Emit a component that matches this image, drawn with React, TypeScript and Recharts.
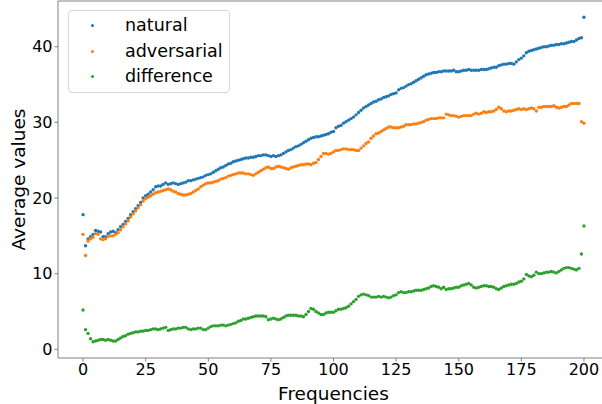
import React from 'react';
import { ScatterChart, Scatter, XAxis, YAxis, Legend, ReferenceLine } from 'recharts';

const natural = [
  17.8, 13.7, 14.6, 14.9, 15.2, 15.7, 15.6, 15.5, 14.9, 14.9,
  15.3, 15.5, 15.6, 15.4, 15.8, 16.2, 16.5, 16.9, 17.3, 17.8,
  18.2, 18.6, 19.0, 19.4, 20.0, 20.3, 20.5, 20.8, 21.1, 21.5,
  21.6, 21.6, 21.8, 22.0, 21.8, 21.9, 22.0, 21.9, 21.8, 21.9,
  22.0, 22.1, 22.3, 22.3, 22.4, 22.5, 22.6, 22.7, 22.8, 23.0,
  23.1, 23.2, 23.4, 23.6, 23.8, 24.0, 24.1, 24.3, 24.5, 24.6,
  24.8, 24.9, 25.0, 25.1, 25.2, 25.3, 25.3, 25.4, 25.4, 25.5,
  25.6, 25.6, 25.7, 25.7, 25.6, 25.5, 25.6, 25.5, 25.6, 25.7,
  25.9, 26.1, 26.3, 26.4, 26.6, 26.8, 26.9, 27.1, 27.3, 27.5,
  27.7, 27.9, 28.0, 28.1, 28.1, 28.2, 28.3, 28.4, 28.5, 28.7,
  28.8, 29.3, 29.5, 29.6, 29.9, 30.1, 30.3, 30.5, 30.7, 31.0,
  31.3, 31.6, 31.9, 32.1, 32.3, 32.5, 32.7, 32.8, 33.0, 33.1,
  33.3, 33.4, 33.5, 33.7, 33.8, 33.9, 34.3, 34.5, 34.6, 34.8,
  35.0, 35.1, 35.3, 35.5, 35.7, 35.9, 36.1, 36.3, 36.4, 36.5,
  36.6, 36.6, 36.7, 36.7, 36.8, 36.8, 36.8, 36.8, 36.9, 36.7,
  36.7, 36.8, 36.9, 36.9, 37.0, 36.9, 36.9, 36.9, 36.9, 37.0,
  37.0, 37.0, 37.1, 37.2, 37.3, 37.3, 37.5, 37.6, 37.7, 37.7,
  37.8, 37.8, 37.7, 38.0, 38.3, 38.5, 38.8, 39.2, 39.4, 39.5,
  39.6, 39.7, 39.8, 39.9, 40.0, 40.0, 40.1, 40.2, 40.2, 40.3,
  40.3, 40.4, 40.4, 40.5, 40.6, 40.7, 40.7, 40.9, 41.1, 41.2,
  43.9,
];

const adversarial = [
  15.2, 12.4, 14.3, 14.6, 14.8, 15.3, 15.2, 14.6, 14.5, 14.6,
  14.9, 15.0, 15.0, 15.2, 15.4, 15.8, 16.2, 16.6, 17.0, 17.5,
  17.9, 18.3, 18.7, 19.1, 19.6, 19.9, 20.1, 20.3, 20.5, 20.7,
  20.8, 20.9, 21.0, 21.1, 21.2, 21.1, 20.9, 20.8, 20.6, 20.5,
  20.4, 20.4, 20.5, 20.6, 20.8, 21.0, 21.2, 21.5, 21.7, 21.9,
  22.0, 22.0, 22.1, 22.2, 22.3, 22.5, 22.6, 22.7, 22.9, 23.0,
  23.1, 23.2, 23.3, 23.3, 23.3, 23.2, 23.2, 23.1, 23.0, 23.2,
  23.4, 23.6, 23.8, 24.0, 24.1, 23.9, 23.9, 24.1, 24.2, 24.1,
  24.0, 23.9, 23.8, 24.0, 24.1, 24.2, 24.3, 24.4, 24.4, 24.5,
  24.5, 24.4, 24.6, 24.7, 25.1, 25.5, 25.9, 25.9, 25.8, 25.9,
  26.1, 26.3, 26.3, 26.4, 26.5, 26.5, 26.4, 26.4, 26.4, 26.3,
  26.3, 26.6, 26.9, 27.2, 27.4, 27.9, 28.2, 28.5, 28.6, 28.8,
  29.0, 29.2, 29.4, 29.4, 29.3, 29.3, 29.3, 29.4, 29.5, 29.7,
  29.7, 29.7, 29.8, 29.8, 29.9, 30.0, 30.1, 30.3, 30.4, 30.5,
  30.5, 30.5, 30.6, 30.6, 30.6, 31.1, 31.0, 30.9, 30.9, 30.8,
  30.7, 30.8, 30.9, 30.9, 30.9, 30.9, 31.1, 31.2, 31.1, 31.2,
  31.4, 31.3, 31.4, 31.4, 31.5, 31.7, 32.0, 31.8, 31.5, 31.4,
  31.5, 31.5, 31.6, 31.7, 31.8, 31.7, 31.8, 31.7, 31.8, 31.9,
  31.8, 31.5, 32.0, 32.0, 32.1, 32.1, 32.1, 32.1, 32.2, 32.0,
  31.9, 32.0, 32.1, 32.1, 32.3, 32.5, 32.5, 32.5, 32.5, 30.1,
  29.9,
];

const difference = [
  5.2, 2.6, 2.1, 1.4, 1.0, 1.1, 1.2, 1.3, 1.3, 1.2,
  1.3, 1.2, 1.1, 1.1, 1.3, 1.5, 1.7, 1.8, 2.0, 2.1,
  2.2, 2.3, 2.3, 2.4, 2.4, 2.5, 2.5, 2.6, 2.7, 2.7,
  2.6, 2.7, 2.8, 2.9, 2.5, 2.6, 2.7, 2.7, 2.8, 2.8,
  2.9, 2.9, 2.7, 2.6, 2.7, 2.7, 2.8, 2.8, 2.6, 2.6,
  2.8, 3.0, 3.1, 3.1, 3.1, 3.2, 3.2, 3.1, 3.2, 3.3,
  3.4, 3.5, 3.7, 3.8, 4.0, 4.0, 4.1, 4.2, 4.3, 4.4,
  4.4, 4.4, 4.4, 4.3, 3.9, 4.0, 4.1, 4.0, 3.9, 4.0,
  4.2, 4.4, 4.5, 4.5, 4.5, 4.5, 4.4, 4.4, 4.3, 4.6,
  5.0, 5.4, 5.3, 5.0, 4.8, 4.6, 4.6, 4.8, 4.9, 4.9,
  4.9, 5.1, 5.3, 5.3, 5.4, 5.5, 5.7, 6.0, 6.3, 6.6,
  7.0, 7.2, 7.3, 7.2, 7.1, 6.9, 6.9, 6.9, 7.0, 6.9,
  7.0, 6.9, 6.8, 6.9, 7.1, 7.2, 7.5, 7.6, 7.5, 7.5,
  7.6, 7.6, 7.7, 7.8, 7.8, 7.8, 7.9, 8.0, 8.1, 8.3,
  8.4, 8.3, 8.2, 8.0, 8.2, 7.9, 8.0, 8.0, 8.1, 8.2,
  8.2, 8.4, 8.5, 8.6, 8.7, 8.5, 8.2, 8.1, 8.2, 8.3,
  8.4, 8.4, 8.3, 8.3, 8.2, 8.0, 7.9, 8.1, 8.3, 8.4,
  8.5, 8.6, 8.6, 8.7, 8.9, 9.0, 9.3, 9.9, 9.7, 9.6,
  9.8, 10.2, 10.0, 10.0, 10.1, 10.2, 10.2, 10.3, 10.2, 10.1,
  10.3, 10.5, 10.7, 10.8, 10.8, 10.7, 10.6, 10.5, 10.7, 12.6,
  16.3,
];

const xTicks = [0, 25, 50, 75, 100, 125, 150, 175, 200];
const yTicks = [0, 10, 20, 30, 40];

const series = [
  { name: 'natural', values: natural, color: '#1f77b4' },
  { name: 'adversarial', values: adversarial, color: '#ff7f0e' },
  { name: 'difference', values: difference, color: '#2ca02c' },
];

const font = '"DejaVu Sans", sans-serif';
const spine = '#808080';

const dot = (color: string) => (props: any) => (
  <circle cx={props.cx} cy={props.cy} r={1.7} fill={color} />
);

const LegendBox = () => (
  <div
    style={{
      position: 'relative',
      width: 160,
      height: 81,
      border: '1px solid #d6d6d6',
      borderRadius: 4,
      background: 'rgba(255,255,255,0.8)',
      fontFamily: font,
      fontSize: 17.5,
      color: '#000',
    }}
  >
    {series.map((s, i) => (
      <div key={s.name} style={{ position: 'absolute', left: 0, top: 3 + i * 25.5, height: 22, width: 160 }}>
        <span
          style={{
            position: 'absolute',
            left: 22,
            top: 10,
            width: 3,
            height: 3,
            borderRadius: 2,
            background: s.color,
          }}
        />
        <span style={{ position: 'absolute', left: 56, top: 0, lineHeight: '22px', whiteSpace: 'nowrap' }}>
          {s.name}
        </span>
      </div>
    ))}
  </div>
);

export default function App() {
  return (
    <div
      style={{
        position: 'absolute',
        left: 0,
        top: 0,
        width: 602,
        height: 404,
        overflow: 'hidden',
        background: '#fff',
      }}
    >
      <ScatterChart width={612} height={404} margin={{ top: 1, right: 3, bottom: 0, left: 0 }}>
        <XAxis
          type="number"
          dataKey="x"
          domain={[-10, 210]}
          ticks={xTicks}
          allowDataOverflow
          height={46}
          stroke={spine}
          tickSize={3.5}
          tickMargin={2}
          tick={{ fill: '#000', fontSize: 16, fontFamily: font }}
          label={{ value: 'Frequencies', position: 'insideBottom', offset: 4, fill: '#000', fontSize: 18.5, fontFamily: font }}
        />
        <YAxis
          type="number"
          dataKey="y"
          domain={[-1.15, 46.05]}
          ticks={yTicks}
          allowDataOverflow
          width={58}
          stroke={spine}
          tickSize={3.5}
          tickMargin={2}
          tick={{ fill: '#000', fontSize: 16, fontFamily: font }}
          label={{
            value: 'Average values',
            angle: -90,
            position: 'insideLeft',
            offset: 18,
            fill: '#000',
            fontSize: 18.5,
            fontFamily: font,
            style: { textAnchor: 'middle' },
          }}
        />
        <ReferenceLine y={46.05} stroke={spine} />
        {series.map((s) => (
          <Scatter
            key={s.name}
            name={s.name}
            data={s.values.map((v, i) => ({ x: i, y: v }))}
            fill={s.color}
            shape={dot(s.color)}
            isAnimationActive={false}
          />
        ))}
        <Legend
          layout="vertical"
          align="center"
          verticalAlign="middle"
          wrapperStyle={{ left: 68, top: 10, width: 162, height: 83 }}
          content={() => <LegendBox />}
        />
      </ScatterChart>
    </div>
  );
}
